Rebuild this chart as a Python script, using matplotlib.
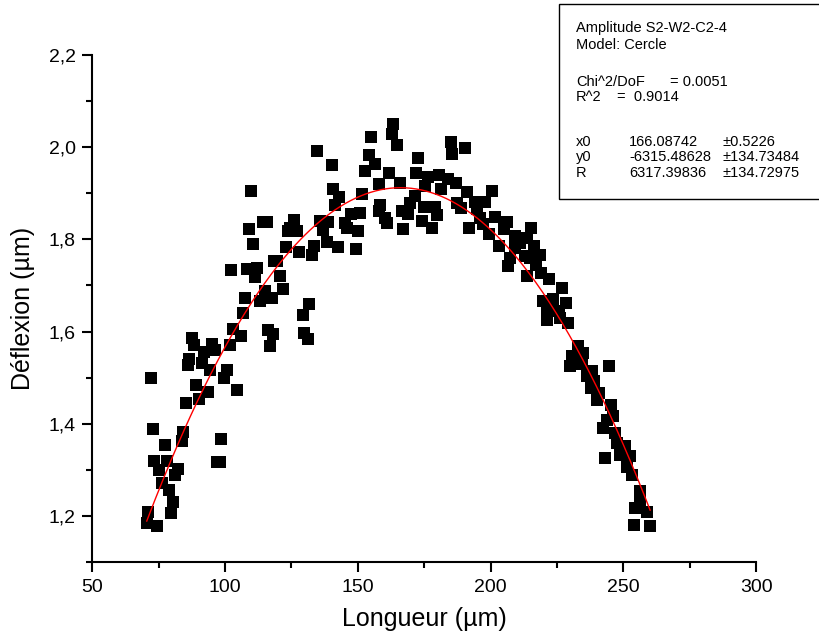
import numpy as np
import matplotlib
matplotlib.use("Agg")
import matplotlib.pyplot as plt
from matplotlib.patches import Rectangle
from matplotlib.ticker import MultipleLocator, FuncFormatter

plt.rcParams['font.family'] = ['Liberation Sans', 'DejaVu Sans']

longueur = np.array([
    109.8, 114.4, 109.2, 110.7, 102.3, 108.4, 112.2, 111.3, 118.6, 107.5,
    115.1, 113.2, 117.6, 106.9, 102.8, 106.0, 116.3, 117.0, 87.5, 88.4,
    95.0, 92.2, 96.2, 101.9, 86.4, 85.9, 91.2, 94.3, 100.6, 99.7,
    72.0, 89.1, 93.7, 90.2, 104.6, 85.2, 72.8, 84.3, 83.7, 77.4,
    98.4, 73.4, 78.0, 75.1, 82.4, 81.2, 97.1, 98.0, 76.1, 79.0,
    80.5, 79.7, 71.1, 70.5, 74.3,
    163.4, 162.8, 164.7, 154.9, 134.8, 140.2, 154.3, 156.3, 152.8, 161.8,
    165.9, 157.8, 140.8, 143.0, 151.5, 141.4, 158.4, 157.8, 160.3, 160.9,
    166.6, 167.2, 147.5, 150.9, 145.2, 145.9, 150.2, 135.8, 138.9, 137.0,
    126.1, 124.5, 127.0, 123.6, 115.7, 123.0, 128.0, 132.7, 133.6, 138.3,
    142.5, 149.2, 119.5, 120.7, 122.0, 131.7, 129.3, 118.2, 129.9, 131.2,
    185.0, 190.4, 185.6, 172.8, 171.9, 176.6, 180.4, 184.1, 187.0, 175.4,
    181.3, 171.6, 169.7, 168.8, 175.1, 178.9, 179.8, 174.1, 178.1, 191.3,
    200.7, 187.3, 188.9, 194.2, 198.0, 194.8, 196.1, 201.5, 191.9, 197.3,
    206.1, 204.9, 199.6, 203.0, 209.3, 211.2, 209.3, 215.3, 216.2, 207.4,
    206.5, 213.1, 213.7, 217.0,
    213.7, 218.7, 214.9, 219.1, 222.2, 226.9, 219.9, 223.7, 228.4, 221.2,
    225.6, 221.2, 226.2, 229.1, 233.1, 235.0, 230.6, 230.0, 234.4, 244.7,
    238.2, 236.3, 238.8, 237.9, 240.7, 240.1, 245.4, 246.3, 243.8, 242.5,
    247.0, 247.6, 250.7, 248.8, 252.6, 243.2, 251.4, 253.2, 256.4, 256.4,
    254.5, 258.9, 253.9, 260.1,
])
deflexion = np.array([
    1.904, 1.838, 1.823, 1.789, 1.733, 1.735, 1.737, 1.719, 1.753, 1.673,
    1.688, 1.666, 1.673, 1.641, 1.606, 1.591, 1.604, 1.568, 1.586, 1.570,
    1.574, 1.555, 1.561, 1.570, 1.541, 1.528, 1.532, 1.517, 1.517, 1.499,
    1.499, 1.483, 1.468, 1.454, 1.474, 1.445, 1.389, 1.381, 1.362, 1.354,
    1.367, 1.320, 1.320, 1.300, 1.302, 1.289, 1.318, 1.318, 1.271, 1.257,
    1.230, 1.207, 1.209, 1.185, 1.178,
    2.050, 2.028, 2.004, 2.023, 1.991, 1.961, 1.983, 1.963, 1.949, 1.943,
    1.923, 1.920, 1.909, 1.891, 1.898, 1.874, 1.874, 1.862, 1.847, 1.835,
    1.862, 1.822, 1.854, 1.857, 1.836, 1.825, 1.818, 1.840, 1.838, 1.820,
    1.843, 1.825, 1.818, 1.818, 1.838, 1.783, 1.772, 1.767, 1.786, 1.794,
    1.784, 1.780, 1.753, 1.720, 1.693, 1.659, 1.635, 1.594, 1.597, 1.583,
    2.012, 1.998, 1.985, 1.976, 1.945, 1.936, 1.939, 1.930, 1.923, 1.915,
    1.910, 1.894, 1.878, 1.854, 1.871, 1.871, 1.852, 1.840, 1.824, 1.902,
    1.905, 1.878, 1.867, 1.881, 1.880, 1.865, 1.847, 1.849, 1.825, 1.833,
    1.838, 1.822, 1.811, 1.786, 1.807, 1.793, 1.782, 1.825, 1.786, 1.760,
    1.742, 1.764, 1.720, 1.745,
    1.804, 1.767, 1.760, 1.728, 1.713, 1.695, 1.666, 1.670, 1.662, 1.644,
    1.644, 1.626, 1.630, 1.619, 1.568, 1.554, 1.546, 1.526, 1.530, 1.526,
    1.514, 1.503, 1.492, 1.478, 1.467, 1.452, 1.441, 1.416, 1.409, 1.391,
    1.380, 1.358, 1.351, 1.333, 1.329, 1.325, 1.307, 1.289, 1.253, 1.235,
    1.217, 1.209, 1.180, 1.178,
])

# Paramètres du fit (modèle cercle)
x0, y0, R = 166.08742, -6315.48628, 6317.39836

fig = plt.figure(figsize=(8.2, 6.38), dpi=100)
ax = fig.add_axes([0.1126, 0.1191, 0.8094, 0.7947])

ax.scatter(longueur, deflexion, marker='s', s=85, c='black', linewidths=0, zorder=2)

xf = np.linspace(longueur.min(), longueur.max(), 300)
yf = y0 + np.sqrt(R**2 - (xf - x0)**2)
ax.plot(xf, yf, color='red', lw=1, zorder=3)

ax.set_xlim(50, 300)
ax.set_ylim(1.1, 2.2)
ax.xaxis.set_major_locator(MultipleLocator(50))
ax.xaxis.set_minor_locator(MultipleLocator(25))
ax.yaxis.set_major_locator(MultipleLocator(0.2))
ax.yaxis.set_minor_locator(MultipleLocator(0.1))
ax.yaxis.set_major_formatter(FuncFormatter(lambda v, p: ("%.1f" % v).replace('.', ',')))

for s in ['top', 'right']:
    ax.spines[s].set_visible(False)
for s in ['left', 'bottom']:
    ax.spines[s].set_linewidth(1.5)
ax.tick_params(which='major', direction='out', length=7, width=1.5, labelsize=14, pad=5)
ax.tick_params(which='minor', direction='out', length=4, width=1.5)

ax.set_xlabel('Longueur (µm)', fontsize=18, labelpad=8)
ax.set_ylabel('Déflexion (µm)', fontsize=18, labelpad=10)

# Boîte des résultats du fit
fig.patches.append(Rectangle((559/820, 1 - 199/638), 0.4, 195/638, transform=fig.transFigure,
                             facecolor='white', edgecolor='black', lw=1, zorder=5))
fs = 10.5
def t(xp, yp, s):
    fig.text(xp/820, 1 - yp/638, s, fontsize=fs, va='center', ha='left', zorder=6)

t(576, 28, 'Amplitude S2-W2-C2-4')
t(576, 45, 'Model: Cercle')
t(576, 82, 'Chi^2/DoF')
t(670, 82, '= 0.0051')
t(576, 97, 'R^2')
t(617, 97, '=  0.9014')
t(576, 142, 'x0')
t(629, 142, '166.08742')
t(723, 142, '±0.5226')
t(576, 157, 'y0')
t(629, 157, '-6315.48628')
t(723, 157, '±134.73484')
t(576, 173, 'R')
t(629, 173, '6317.39836')
t(723, 173, '±134.72975')

fig.savefig('out.png', dpi=100)
